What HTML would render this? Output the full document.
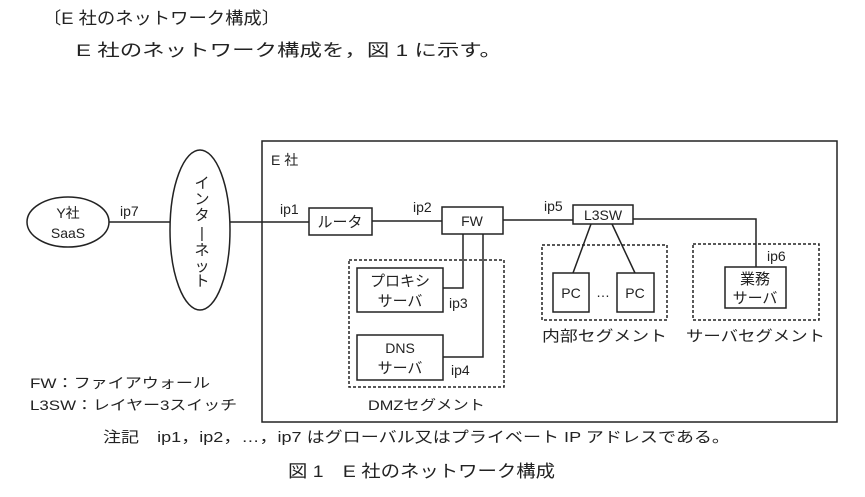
<!DOCTYPE html>
<html><head><meta charset="utf-8"><style>
body{margin:0;background:#fff;}
svg text{font-family:"Liberation Sans","Noto Sans CJK JP",sans-serif;fill:#222;}
</style></head><body>
<svg width="865" height="492" viewBox="0 0 865 492" xmlns="http://www.w3.org/2000/svg">
<g font-size="17">
<text x="43" y="24" textLength="237" lengthAdjust="spacingAndGlyphs">〔E 社のネットワーク構成〕</text>
<text x="76" y="56" textLength="426" lengthAdjust="spacingAndGlyphs">E 社のネットワーク構成を，図 1 に示す。</text>
</g>
<g fill="none" stroke="#222" stroke-width="1.5">
<rect x="262" y="141" width="575" height="281"/>
<ellipse cx="68" cy="222" rx="41" ry="25"/>
<ellipse cx="200" cy="230" rx="30" ry="80"/>
<line x1="109" y1="222" x2="170" y2="222"/>
<line x1="230" y1="222" x2="309" y2="222"/>
<rect x="309" y="208" width="63" height="27"/>
<line x1="372" y1="221" x2="442" y2="221"/>
<rect x="442" y="207" width="61" height="27"/>
<line x1="503" y1="220" x2="573" y2="220"/>
<rect x="573" y="205" width="60" height="19"/>
<polyline points="443,288 463,288 463,234"/>
<polyline points="443,357 483,357 483,234"/>
<rect x="357" y="268" width="86" height="44"/>
<rect x="357" y="335" width="86" height="45"/>
<line x1="591" y1="224" x2="573" y2="273"/>
<line x1="612" y1="224" x2="635" y2="273"/>
<rect x="553" y="273" width="36" height="39"/>
<rect x="617" y="273" width="37" height="39"/>
<polyline points="633,219 756,219 756,267"/>
<rect x="725" y="267" width="61" height="41"/>
<g stroke-dasharray="3,2">
<rect x="349" y="260" width="155" height="127"/>
<rect x="542" y="245" width="125" height="75"/>
<rect x="693" y="244" width="126" height="76"/>
</g>
</g>
<g font-size="14">
<text x="68" y="218" text-anchor="middle">Y社</text>
<text x="68" y="238" text-anchor="middle">SaaS</text>
<g text-anchor="middle" font-size="15">
<text x="202" y="188">イ</text><text x="202" y="204">ン</text><text x="202" y="220">タ</text><text x="202" y="238">|</text><text x="202" y="255">ネ</text><text x="202" y="271">ッ</text><text x="202" y="286">ト</text>
</g>
<text x="271" y="165">E 社</text>
<text x="120" y="216">ip7</text>
<text x="280" y="214">ip1</text>
<text x="413" y="212">ip2</text>
<text x="544" y="211">ip5</text>
<text x="449" y="308">ip3</text>
<text x="451" y="375">ip4</text>
<text x="767" y="261">ip6</text>
<text x="340" y="227" text-anchor="middle" font-size="15">ルータ</text>
<text x="472" y="226" text-anchor="middle">FW</text>
<text x="603" y="220" text-anchor="middle">L3SW</text>
<text x="400" y="286" text-anchor="middle" font-size="15">プロキシ</text>
<text x="400" y="306" text-anchor="middle" font-size="15">サーバ</text>
<text x="400" y="353" text-anchor="middle">DNS</text>
<text x="400" y="373" text-anchor="middle" font-size="15">サーバ</text>
<text x="368" y="410" textLength="117" lengthAdjust="spacingAndGlyphs">DMZセグメント</text>
<text x="571" y="298" text-anchor="middle">PC</text>
<text x="603" y="297" text-anchor="middle">…</text>
<text x="635" y="298" text-anchor="middle">PC</text>
<text x="755" y="284" text-anchor="middle" font-size="15">業務</text>
<text x="755" y="303" text-anchor="middle" font-size="15">サーバ</text>
<text x="542" y="341" font-size="15" textLength="125" lengthAdjust="spacingAndGlyphs">内部セグメント</text>
<text x="686" y="341" font-size="15" textLength="139" lengthAdjust="spacingAndGlyphs">サーバセグメント</text>
<text x="30" y="388" textLength="180" lengthAdjust="spacingAndGlyphs">FW：ファイアウォール</text>
<text x="30" y="410" textLength="207" lengthAdjust="spacingAndGlyphs">L3SW：レイヤー3スイッチ</text>
<text x="103" y="442" font-size="15" textLength="627" lengthAdjust="spacingAndGlyphs">注記　ip1，ip2，…，ip7 はグローバル又はプライベート IP アドレスである。</text>
<text x="288" y="477" font-size="17" textLength="267" lengthAdjust="spacingAndGlyphs">図 1　E 社のネットワーク構成</text>
</g>
</svg>
</body></html>
